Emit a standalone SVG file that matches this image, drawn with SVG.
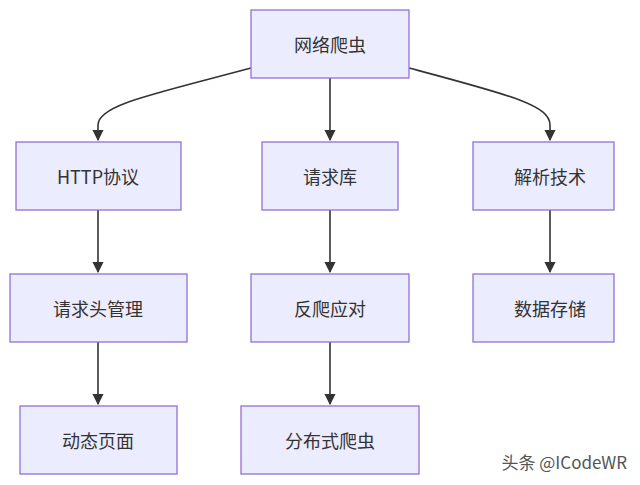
<svg xmlns="http://www.w3.org/2000/svg" width="640" height="485" viewBox="0 0 640 485">
<style>
.n rect{fill:#ECECFF;stroke:#9370DB;stroke-width:1.3}
.n text{font-family:"Noto Sans CJK SC","Noto Sans",sans-serif;font-size:18px;fill:#333;text-anchor:middle;dominant-baseline:central}
.e path{fill:none;stroke:#333;stroke-width:1.6}
</style>
<defs><marker id="a" viewBox="0 0 10 10" refX="9" refY="5" markerWidth="7" markerHeight="7" orient="auto"><path d="M0,0L10,5L0,10z" fill="#333"/></marker></defs>
<rect width="640" height="485" fill="#fff"/>
<g class="e">
<path d="M251,68 C150,95 98,105 98,125 L98,140" marker-end="url(#a)"/>
<path d="M330,78 L330,140" marker-end="url(#a)"/>
<path d="M409,68 C510,95 550,105 550,125 L550,140" marker-end="url(#a)"/>
<path d="M98,210 L98,272" marker-end="url(#a)"/>
<path d="M330,210 L330,272" marker-end="url(#a)"/>
<path d="M550,210 L550,272" marker-end="url(#a)"/>
<path d="M98,342 L98,404" marker-end="url(#a)"/>
<path d="M330,342 L330,404" marker-end="url(#a)"/>
</g>
<g id="n0" class="n"><rect x="251" y="10" width="158" height="68"/><text x="330" y="44">网络爬虫</text></g>
<g id="n1" class="n"><rect x="16" y="142" width="165" height="68"/><text x="98" y="176">HTTP协议</text></g>
<g id="n2" class="n"><rect x="262" y="142" width="136" height="68"/><text x="330" y="176">请求库</text></g>
<g id="n3" class="n"><rect x="473" y="142" width="141" height="68"/><text x="550" y="176">解析技术</text></g>
<g id="n4" class="n"><rect x="10" y="274" width="177" height="68"/><text x="98" y="308">请求头管理</text></g>
<g id="n5" class="n"><rect x="251" y="274" width="158" height="68"/><text x="330" y="308">反爬应对</text></g>
<g id="n6" class="n"><rect x="473" y="274" width="141" height="68"/><text x="550" y="308">数据存储</text></g>
<g id="n7" class="n"><rect x="20" y="406" width="157" height="68"/><text x="98" y="440">动态页面</text></g>
<g id="n8" class="n"><rect x="241" y="406" width="178" height="68"/><text x="330" y="440">分布式爬虫</text></g>
<text x="627" y="469" text-anchor="end" font-family="'Noto Sans CJK SC',sans-serif" font-size="17" fill="#555">头条 @ICodeWR</text>
</svg>
